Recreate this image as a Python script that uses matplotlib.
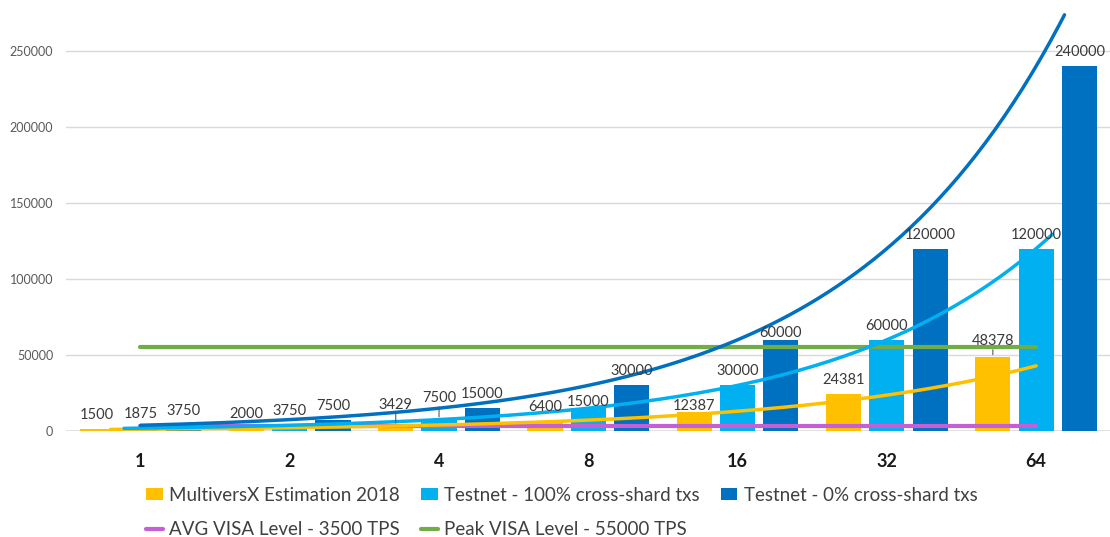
import numpy as np
import matplotlib
matplotlib.use("Agg")
import matplotlib.pyplot as plt

plt.rcParams['font.family'] = ['Lato', 'DejaVu Sans']

# chart data
shards = ["1", "2", "4", "8", "16", "32", "64"]
estimation_2018 = [1500, 2000, 3429, 6400, 12387, 24381, 48378]
testnet_100 = [1875, 3750, 7500, 15000, 30000, 60000, 120000]
testnet_0 = [3750, 7500, 15000, 30000, 60000, 120000, 240000]
avg_visa = 3500
peak_visa = 55000
y_ticks = [0, 50000, 100000, 150000, 200000, 250000]

c_yellow = "#FFC000"
c_light = "#00B0F0"
c_dark = "#0070C0"
c_purple = "#C45FD6"
c_green = "#70AD47"

fig = plt.figure(figsize=(11.1, 5.37), dpi=100)
ax = fig.add_axes([0.0593, 0.1974, 0.9414, 0.7926])

idx = np.arange(len(shards))
bw = 0.235
off = 0.29

series = [
    (estimation_2018, c_yellow, -off, "MultiversX Estimation 2018", (-0.2, 6.0)),
    (testnet_100, c_light, 0.0, "Testnet - 100% cross-shard txs", (-0.11, 6.11)),
    (testnet_0, c_dark, off, "Testnet - 0% cross-shard txs", (0.0, 6.19)),
]

# label offsets above bar top in pixels, default 14
label_px = {(0, 2): 21, (1, 2): 21.5, (1, 3): 6, (0, 4): 6, (2, 4): 7, (0, 6): 16.5}
leaders = [(0, 2), (1, 2), (0, 6)]

handles = {}
for s, (vals, col, dx, name, span) in enumerate(series):
    b = ax.bar(idx + dx, vals, width=bw, color=col, zorder=2, label=name)
    handles[name] = b
    for i, v in enumerate(vals):
        px = label_px.get((s, i), 14)
        ax.annotate(str(v), (idx[i] + dx, v), xytext=(0, px * 0.72),
                    textcoords="offset points", ha="center", va="center",
                    fontsize=10.5, color="#3A3A3A", zorder=6)
        if (s, i) in leaders:
            ax.annotate("", (idx[i] + dx, v), xytext=(0, (px - 6) * 0.72),
                        textcoords="offset points",
                        arrowprops=dict(arrowstyle="-", color="#595959", lw=0.8),
                        zorder=6)

# horizontal VISA levels
l_avg, = ax.plot([0, 6], [avg_visa, avg_visa], color=c_purple, lw=3,
                 solid_capstyle="round", zorder=4, label="AVG VISA Level - 3500 TPS")
l_peak, = ax.plot([0, 6], [peak_visa, peak_visa], color=c_green, lw=3,
                  solid_capstyle="round", zorder=4, label="Peak VISA Level - 55000 TPS")

# exponential trendlines
for vals, col, dx, name, span in series:
    k, c0 = np.polyfit(idx, np.log(vals), 1)
    t = np.linspace(span[0], span[1], 200)
    ax.plot(t, np.exp(c0 + k * t), color=col, lw=2.5, solid_capstyle="round",
            zorder=5, clip_on=False)

ax.set_xlim(-0.5, 6.5)
ax.set_ylim(0, 280000)
ax.set_yticks(y_ticks)
ax.set_yticklabels([str(v) for v in y_ticks])
ax.set_xticks(idx)
ax.set_xticklabels(shards, fontweight="bold", fontsize=13, color="#1A1A1A")
ax.tick_params(axis="x", length=0, pad=16)
ax.tick_params(axis="y", length=0, pad=9, labelsize=9, labelcolor="#595959")
for sp in ax.spines.values():
    sp.set_visible(False)
ax.yaxis.grid(True, color="#D9D9D9", lw=1, zorder=0)
ax.axhline(0, color="#D9D9D9", lw=1.8, zorder=1)
ax.set_axisbelow(True)

order = [handles["MultiversX Estimation 2018"], l_avg,
         handles["Testnet - 100% cross-shard txs"], l_peak,
         handles["Testnet - 0% cross-shard txs"]]
fig.legend(handles=order, labels=[h.get_label() for h in order], ncol=3,
           loc="upper left", bbox_to_anchor=(146 / 1110, 1 - 487 / 537),
           frameon=False, fontsize=13.5, handlelength=0.9, handleheight=0.6,
           handletextpad=0.35, columnspacing=1.1, labelspacing=0.9,
           borderpad=0, borderaxespad=0, labelcolor="#404040")

fig.savefig("out.png", dpi=100)
